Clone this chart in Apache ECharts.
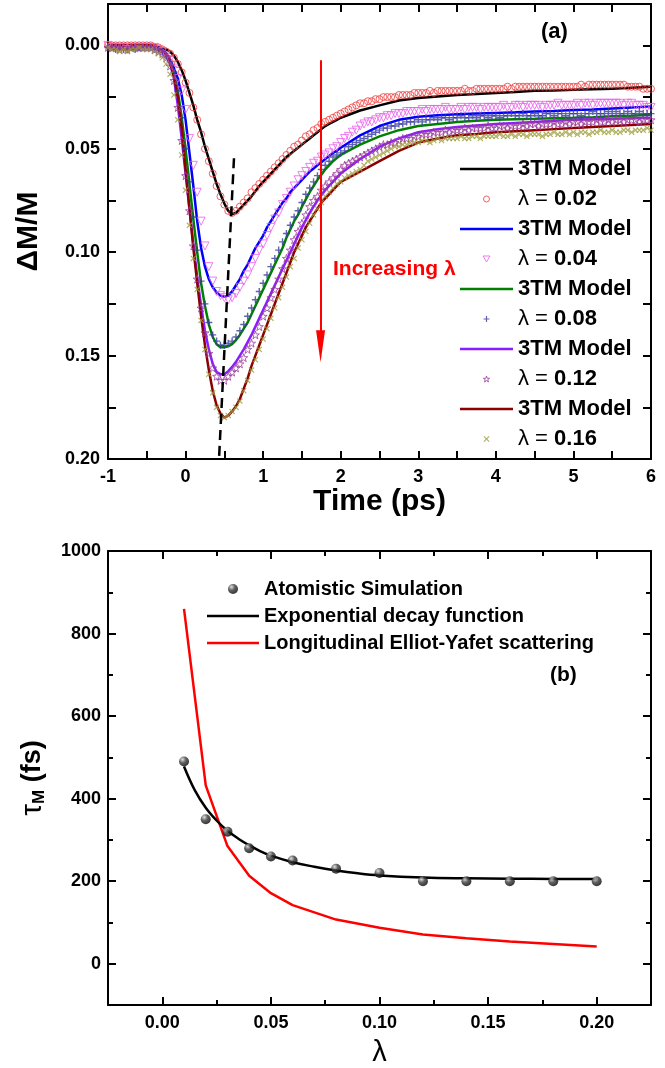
<!DOCTYPE html>
<html><head><meta charset="utf-8">
<script src="https://cdn.jsdelivr.net/npm/echarts@6/dist/echarts.min.js"></script>
<style>html,body{margin:0;padding:0;background:#fff}#c{width:665px;height:1068px}</style>
</head><body><div id="c"></div>
<script>
// ---------- Panel (a): time grids ----------
const tData = [-1,-0.95,-0.9,-0.85,-0.8,-0.75,-0.7,-0.65,-0.6,-0.55,
 -0.5,-0.45,-0.4,-0.35,-0.3,-0.25,-0.2,-0.15,-0.1,-0.05,
 0,0.05,0.1,0.15,0.2,0.25,0.3,0.35,0.4,0.45,
 0.5,0.55,0.6,0.65,0.7,0.75,0.8,0.85,0.9,0.95,
 1,1.05,1.1,1.15,1.2,1.25,1.3,1.35,1.4,1.45,
 1.5,1.55,1.6,1.65,1.7,1.75,1.8,1.85,1.9,1.95,
 2,2.05,2.1,2.15,2.2,2.25,2.3,2.35,2.4,2.45,
 2.5,2.55,2.6,2.65,2.7,2.75,2.8,2.85,2.9,2.95,
 3,3.05,3.1,3.15,3.2,3.25,3.3,3.35,3.4,3.45,
 3.5,3.55,3.6,3.65,3.7,3.75,3.8,3.85,3.9,3.95,
 4,4.05,4.1,4.15,4.2,4.25,4.3,4.35,4.4,4.45,
 4.5,4.55,4.6,4.65,4.7,4.75,4.8,4.85,4.9,4.95,
 5,5.05,5.1,5.15,5.2,5.25,5.3,5.35,5.4,5.45,
 5.5,5.55,5.6,5.65,5.7,5.75,5.8,5.85,5.9,5.95,
 6];
const tModel = [-1,-0.75,-0.5,-0.4,-0.35,-0.3,-0.25,-0.2,-0.15,-0.1,
 -0.05,0,0.05,0.1,0.15,0.2,0.25,0.3,0.35,0.4,
 0.45,0.5,0.55,0.6,0.65,0.7,0.75,0.8,0.85,0.9,
 0.95,1,1.05,1.1,1.15,1.2,1.25,1.3,1.35,1.4,
 1.45,1.5,1.55,1.6,1.65,1.7,1.75,1.8,1.85,1.9,
 1.95,2,2.25,2.5,2.75,3,3.25,3.5,3.75,4,
 4.25,4.5,4.75,5,5.25,5.5,5.75,6];

// ---------- Panel (a): measured/simulated data (ΔM/M) ----------
const d002 = [0,0,0,0,0,0,0,0,0,0,
 0,0,0.001,0.001,0.002,0.003,0.004,0.006,0.009,0.013,
 0.018,0.023,0.030,0.036,0.043,0.050,0.056,0.062,0.068,0.073,
 0.077,0.080,0.081,0.080,0.078,0.076,0.074,0.071,0.069,0.067,
 0.065,0.063,0.061,0.059,0.057,0.055,0.053,0.051,0.049,0.048,
 0.046,0.044,0.043,0.041,0.040,0.038,0.037,0.036,0.035,0.034,
 0.033,0.032,0.031,0.030,0.029,0.028,0.028,0.027,0.027,0.026,
 0.026,0.025,0.025,0.025,0.025,0.024,0.024,0.024,0.024,0.023,
 0.023,0.023,0.023,0.022,0.023,0.022,0.022,0.022,0.022,0.022,
 0.022,0.022,0.021,0.022,0.022,0.021,0.021,0.021,0.021,0.021,
 0.021,0.021,0.021,0.020,0.021,0.020,0.020,0.020,0.020,0.020,
 0.020,0.020,0.020,0.020,0.020,0.020,0.020,0.020,0.020,0.020,
 0.020,0.020,0.019,0.020,0.019,0.019,0.019,0.019,0.019,0.019,
 0.019,0.019,0.019,0.019,0.020,0.020,0.020,0.020,0.021,0.021,
 0.021];
const d004 = [0,0.001,0.001,0.001,0.001,0.002,0.001,0.001,0.001,0.001,
 0.001,0.001,0.001,0.002,0.003,0.005,0.007,0.011,0.016,0.022,
 0.031,0.045,0.058,0.071,0.085,0.097,0.107,0.114,0.119,0.121,
 0.122,0.123,0.122,0.120,0.117,0.114,0.111,0.107,0.103,0.099,
 0.096,0.092,0.088,0.084,0.081,0.077,0.074,0.071,0.068,0.065,
 0.063,0.061,0.059,0.057,0.056,0.054,0.053,0.052,0.050,0.049,
 0.047,0.045,0.044,0.042,0.041,0.039,0.038,0.037,0.037,0.036,
 0.035,0.035,0.034,0.034,0.033,0.033,0.033,0.032,0.032,0.032,
 0.032,0.031,0.032,0.031,0.031,0.031,0.031,0.030,0.031,0.031,
 0.031,0.030,0.031,0.030,0.030,0.030,0.031,0.030,0.030,0.030,
 0.030,0.030,0.029,0.030,0.030,0.029,0.029,0.030,0.029,0.029,
 0.029,0.029,0.030,0.029,0.029,0.029,0.028,0.029,0.029,0.029,
 0.029,0.028,0.029,0.028,0.028,0.029,0.028,0.028,0.028,0.028,
 0.028,0.028,0.028,0.029,0.028,0.028,0.029,0.029,0.029,0.030,
 0.030];
const d008 = [0.001,0.001,0.002,0.001,0.002,0.002,0.001,0.002,0.001,0.001,
 0.001,0.001,0.002,0.002,0.003,0.005,0.008,0.013,0.022,0.035,
 0.050,0.066,0.083,0.099,0.114,0.125,0.134,0.140,0.143,0.145,
 0.145,0.144,0.143,0.141,0.138,0.135,0.131,0.127,0.123,0.119,
 0.115,0.111,0.107,0.103,0.099,0.095,0.091,0.087,0.083,0.080,
 0.076,0.072,0.069,0.066,0.063,0.060,0.058,0.056,0.054,0.053,
 0.052,0.051,0.049,0.048,0.047,0.046,0.045,0.044,0.043,0.042,
 0.041,0.040,0.040,0.039,0.039,0.038,0.038,0.037,0.037,0.037,
 0.036,0.037,0.036,0.036,0.035,0.036,0.035,0.035,0.036,0.035,
 0.035,0.034,0.035,0.035,0.034,0.035,0.034,0.034,0.035,0.034,
 0.034,0.035,0.034,0.034,0.033,0.034,0.034,0.033,0.034,0.034,
 0.033,0.034,0.034,0.033,0.033,0.034,0.033,0.033,0.034,0.033,
 0.033,0.033,0.034,0.033,0.033,0.032,0.033,0.033,0.033,0.032,
 0.033,0.032,0.033,0.033,0.032,0.033,0.033,0.032,0.033,0.033,
 0.033];
const d012 = [0.001,0.001,0.001,0.002,0.001,0.002,0.001,0.001,0.001,0.001,
 0.001,0.001,0.002,0.003,0.004,0.006,0.010,0.017,0.030,0.046,
 0.063,0.080,0.097,0.113,0.127,0.139,0.149,0.156,0.160,0.162,
 0.162,0.160,0.158,0.156,0.154,0.151,0.147,0.144,0.140,0.136,
 0.131,0.127,0.122,0.118,0.113,0.108,0.103,0.099,0.094,0.090,
 0.086,0.082,0.078,0.075,0.073,0.070,0.068,0.066,0.064,0.062,
 0.060,0.058,0.057,0.056,0.055,0.054,0.053,0.052,0.051,0.050,
 0.049,0.048,0.048,0.047,0.047,0.046,0.045,0.045,0.045,0.044,
 0.044,0.043,0.043,0.043,0.042,0.042,0.042,0.041,0.042,0.041,
 0.041,0.041,0.040,0.041,0.040,0.040,0.040,0.040,0.039,0.040,
 0.040,0.039,0.039,0.040,0.039,0.039,0.039,0.038,0.039,0.038,
 0.038,0.039,0.038,0.038,0.038,0.037,0.038,0.038,0.037,0.038,
 0.037,0.037,0.038,0.037,0.037,0.037,0.036,0.037,0.037,0.036,
 0.037,0.036,0.036,0.037,0.036,0.036,0.036,0.037,0.036,0.036,
 0.036];
const d016 = [0.001,0.002,0.002,0.003,0.002,0.003,0.002,0.002,0.001,0.002,
 0.002,0.002,0.003,0.004,0.006,0.009,0.014,0.024,0.036,0.053,
 0.070,0.087,0.103,0.118,0.133,0.147,0.159,0.168,0.175,0.179,
 0.180,0.179,0.177,0.175,0.172,0.167,0.162,0.157,0.152,0.147,
 0.142,0.137,0.132,0.127,0.122,0.117,0.112,0.107,0.103,0.098,
 0.094,0.090,0.086,0.082,0.079,0.076,0.073,0.071,0.069,0.067,
 0.066,0.064,0.063,0.062,0.061,0.060,0.058,0.056,0.055,0.054,
 0.053,0.052,0.051,0.050,0.049,0.049,0.048,0.048,0.047,0.047,
 0.047,0.046,0.046,0.047,0.046,0.045,0.046,0.045,0.045,0.045,
 0.045,0.044,0.045,0.045,0.044,0.044,0.045,0.044,0.044,0.044,
 0.044,0.043,0.044,0.044,0.043,0.044,0.043,0.043,0.044,0.043,
 0.043,0.043,0.044,0.043,0.043,0.042,0.043,0.043,0.042,0.043,
 0.042,0.043,0.042,0.042,0.043,0.042,0.042,0.041,0.042,0.042,
 0.041,0.042,0.042,0.041,0.041,0.042,0.041,0.041,0.041,0.040,
 0.041];

// ---------- Panel (a): 3TM model curves ----------
const m002 = [0,0,0,0.0005,0.001,0.0015,0.002,0.003,0.005,0.008,
 0.012,0.017,0.023,0.029,0.036,0.042,0.049,0.055,0.061,0.067,
 0.072,0.0765,0.080,0.0815,0.081,0.079,0.077,0.075,0.073,0.0705,
 0.068,0.066,0.064,0.062,0.060,0.058,0.056,0.054,0.0525,0.051,
 0.0495,0.048,0.0465,0.045,0.0435,0.042,0.0405,0.039,0.038,0.037,
 0.036,0.035,0.0315,0.029,0.0267,0.0255,0.0247,0.024,0.0235,0.023,
 0.0225,0.022,0.0218,0.0215,0.0212,0.021,0.0205,0.020];
const m004 = [0,0,0,0,0.001,0.002,0.004,0.007,0.011,0.016,
 0.024,0.036,0.052,0.068,0.085,0.098,0.107,0.113,0.117,0.1195,
 0.121,0.1215,0.121,0.119,0.116,0.113,0.109,0.106,0.102,0.098,
 0.095,0.092,0.088,0.085,0.082,0.079,0.076,0.074,0.071,0.069,
 0.067,0.065,0.063,0.061,0.0595,0.058,0.0565,0.055,0.0535,0.052,
 0.051,0.0495,0.0435,0.039,0.036,0.0345,0.0338,0.0333,0.033,0.0327,
 0.0324,0.032,0.0317,0.0313,0.031,0.0305,0.030,0.0295];
const m008 = [0,0,0,0,0.001,0.002,0.004,0.008,0.013,0.022,
 0.035,0.050,0.067,0.084,0.100,0.115,0.126,0.135,0.141,0.1445,
 0.146,0.146,0.1455,0.1445,0.1425,0.140,0.137,0.134,0.130,0.126,
 0.122,0.118,0.114,0.110,0.106,0.102,0.098,0.093,0.089,0.085,
 0.082,0.078,0.0745,0.071,0.068,0.065,0.0625,0.060,0.058,0.056,
 0.0545,0.053,0.048,0.044,0.041,0.039,0.038,0.037,0.0365,0.036,
 0.0357,0.0355,0.0352,0.035,0.0347,0.0343,0.034,0.0335];
const m012 = [0,0,0,0,0.001,0.002,0.004,0.008,0.016,0.029,
 0.045,0.062,0.079,0.096,0.112,0.126,0.138,0.147,0.154,0.158,
 0.159,0.159,0.1575,0.1555,0.153,0.150,0.147,0.1435,0.140,0.136,
 0.132,0.128,0.124,0.120,0.116,0.112,0.108,0.104,0.100,0.096,
 0.092,0.088,0.0845,0.081,0.078,0.075,0.0725,0.070,0.068,0.066,
 0.064,0.062,0.055,0.049,0.045,0.042,0.0405,0.0395,0.0387,0.038,
 0.0375,0.037,0.0365,0.036,0.0357,0.0355,0.0352,0.035];
const m016 = [0,0,0,0,0.001,0.003,0.005,0.009,0.015,0.025,
 0.040,0.060,0.079,0.098,0.115,0.131,0.145,0.157,0.167,0.174,
 0.178,0.180,0.179,0.177,0.1745,0.171,0.166,0.161,0.155,0.150,
 0.145,0.140,0.135,0.130,0.125,0.120,0.115,0.110,0.105,0.100,
 0.096,0.092,0.088,0.085,0.082,0.079,0.076,0.074,0.072,0.070,
 0.068,0.066,0.061,0.056,0.051,0.047,0.045,0.0435,0.0428,0.042,
 0.0415,0.041,0.0405,0.040,0.0395,0.039,0.0385,0.038];

// guide lines of panel (a) in data units
const minimaGuide = [[0.624, 0.0546], [0.431, 0.2]];
const arrowGuide = [[1.74, 0.0072], [1.74, 0.1455]];

// ticks panel (a)
const xTicksA = [-1,0,1,2,3,4,5,6];
const xMinorA = [-1,-0.5,0,0.5,1,1.5,2,2.5,3,3.5,4,4.5,5,5.5,6];
const yTicksA = [0,0.05,0.1,0.15,0.2];
const yMinorA = [0,0.025,0.05,0.075,0.1,0.125,0.15,0.175,0.2];

// ---------- Panel (b) ----------
const lambdaSim = [0.01,0.02,0.03,0.04,0.05,0.06,0.08,0.10,0.12,0.14,0.16,0.18,0.20];
const tauSim    = [490,350,320,280,260,250,230,220,200,200,200,200,200];
const lambdaFit = [0.01,0.015,0.02,0.025,0.03,0.035,0.04,0.045,0.05,0.06,0.07,0.08,0.09,0.10,0.12,0.14,0.16,0.18,0.20];
const tauFit    = [478,420,378,347,322,303,287,273,262,246,235,226,219,214,209,207,206,205.5,205];
const lambdaEY  = [0.01,0.02,0.03,0.04,0.05,0.06,0.08,0.10,0.12,0.14,0.16,0.18,0.20];
const tauEY     = [860,432,285,213,171,142,107,87,71,62,54,48,42];
const xTicksB = [0,0.05,0.1,0.15,0.2];
const xMinorB = [0.025,0.075,0.125,0.175];
const yTicksB = [0,200,400,600,800,1000];
const yMinorB = [-100,100,300,500,700,900];

const FONT = "'Liberation Sans', Arial, sans-serif";
const zip = (xs, ys) => xs.map((x, i) => [x, ys[i]]);

const chart = echarts.init(document.getElementById('c'), null, {renderer: 'canvas'});

function frameAxis(extra) {
  return Object.assign({
    type: 'value', splitLine: {show: false},
    axisLine: {show: true, onZero: false, lineStyle: {color: '#000', width: 2}},
    axisTick: {show: true, inside: true, length: 8, lineStyle: {color: '#000', width: 2}},
    axisLabel: {show: false}
  }, extra);
}
const lblStyle = {show: true, color: '#000', fontFamily: FONT, fontWeight: 'bold', fontSize: 18};

const plusPath = 'path://M4,0H6V4H10V6H6V10H4V6H0V4H4Z';
const crossPath = 'path://M1.4,0L5,3.6L8.6,0L10,1.4L6.4,5L10,8.6L8.6,10L5,6.4L1.4,10L0,8.6L3.6,5L0,1.4Z';
const starPath = 'path://M50,0L61.8,35.5L99,35.5L69,57.5L80.9,93L50,71L19.1,93L31,57.5L1,35.5L38.2,35.5Z';
const triDownPath = 'path://M0,0L10,0L5,8.66Z';
const lineIconA = 'path://M0,0H53V2.6H0Z';
const lineIconB = 'path://M0,0H52V2.6H0Z';

const C = {m002: '#000000', d002: '#ee3b3b', m004: '#0000ff', d004: '#e85ee8', m008: '#008000',
  d008: '#3a3a9e', m012: '#8a1cff', d012: '#9b3c9b', m016: '#8b0000', d016: '#9e9e3a'};

function modelSeries(name, ys) {
  const color = C[name];
  return {name, type: 'line', xAxisIndex: 0, yAxisIndex: 0, data: zip(tModel, ys),
    symbol: 'none', showSymbol: false, lineStyle: {color, width: 2.5}, itemStyle: {color}, z: 3};
}
const hollow = c => ({color: 'rgba(255,255,255,0)', borderColor: c, borderWidth: 1});
function dataSeries(name, ys, symbol, size, isHollow) {
  const color = C[name];
  return {name, type: 'scatter', xAxisIndex: 0, yAxisIndex: 0, data: zip(tData, ys),
    symbol, symbolSize: size,
    itemStyle: isHollow ? hollow(color) : {color, borderWidth: 0}, z: 3};
}

const legendText = {
  m002: '3TM Model', d002: '{l|λ = }0.02',
  m004: '3TM Model', d004: '{l|λ = }0.04',
  m008: '3TM Model', d008: '{l|λ = }0.08',
  m012: '3TM Model', d012: '{l|λ = }0.12',
  m016: '3TM Model', d016: '{l|λ = }0.16'
};
const legendA = [
  {name: 'm002', icon: lineIconA, itemStyle: {color: C.m002}},
  {name: 'd002', icon: 'circle', itemStyle: hollow(C.d002)},
  {name: 'm004', icon: lineIconA, itemStyle: {color: C.m004}},
  {name: 'd004', icon: triDownPath, itemStyle: hollow(C.d004)},
  {name: 'm008', icon: lineIconA, itemStyle: {color: C.m008}},
  {name: 'd008', icon: plusPath, itemStyle: {color: C.d008, borderWidth: 0}},
  {name: 'm012', icon: lineIconA, itemStyle: {color: C.m012}},
  {name: 'd012', icon: starPath, itemStyle: hollow(C.d012)},
  {name: 'm016', icon: lineIconA, itemStyle: {color: C.m016}},
  {name: 'd016', icon: crossPath, itemStyle: {color: C.d016, borderWidth: 0}}
];

const sphere = {type: 'radial', x: 0.35, y: 0.3, r: 0.75,
  colorStops: [{offset: 0, color: '#d8d8d8'}, {offset: 0.45, color: '#3a3a3a'}, {offset: 1, color: '#000'}]};

const m002s = modelSeries('m002', m002);
m002s.markLine = {
  silent: true, symbol: 'none', label: {show: false}, animation: false,
  data: [
    [{coord: minimaGuide[0], lineStyle: {color: '#000', width: 2.5, type: [10, 6]}}, {coord: minimaGuide[1]}],
    [{coord: arrowGuide[0], symbol: 'none', lineStyle: {color: '#ff0000', width: 2, type: 'solid'}},
     {coord: arrowGuide[1], symbol: 'triangle', symbolSize: [9, 32]}]
  ]
};

const option = {
  animation: false,
  backgroundColor: '#fff',
  textStyle: {fontFamily: FONT},
  grid: [
    {left: 108, top: 4, width: 543, height: 455, outerBoundsMode: 'none'},
    {left: 108, top: 551, width: 543, height: 454, outerBoundsMode: 'none'}
  ],
  xAxis: [
    frameAxis({gridIndex: 0, position: 'bottom', min: -1, max: 6,
      axisTick: {show: true, inside: true, length: 8, lineStyle: {color: '#000', width: 2}, customValues: xMinorA},
      axisLabel: Object.assign({}, lblStyle, {margin: 9, customValues: xTicksA, formatter: v => String(v)}),
      name: 'Time (ps)', nameLocation: 'middle', nameGap: 28,
      nameTextStyle: {color: '#000', fontFamily: FONT, fontWeight: 'bold', fontSize: 30}}),
    frameAxis({gridIndex: 0, position: 'top', min: -1, max: 6,
      axisTick: {show: true, inside: true, length: 8, lineStyle: {color: '#000', width: 2}, customValues: xMinorA}}),
    frameAxis({gridIndex: 1, position: 'bottom', min: -0.025, max: 0.225,
      axisTick: {show: true, inside: true, length: 8, lineStyle: {color: '#000', width: 2}, customValues: xTicksB},
      axisLabel: Object.assign({}, lblStyle, {margin: 9, customValues: xTicksB, formatter: v => v.toFixed(2)}),
      name: 'λ', nameLocation: 'middle', nameGap: 33,
      nameTextStyle: {color: '#000', fontFamily: FONT, fontWeight: 'normal', fontSize: 29}}),
    frameAxis({gridIndex: 1, position: 'bottom', min: -0.025, max: 0.225, axisLine: {show: false, onZero: false},
      axisTick: {show: true, inside: true, length: 5, lineStyle: {color: '#000', width: 2}, customValues: xMinorB}}),
    frameAxis({gridIndex: 1, position: 'top', min: -0.025, max: 0.225,
      axisTick: {show: true, inside: true, length: 8, lineStyle: {color: '#000', width: 2}, customValues: xTicksB}}),
    frameAxis({gridIndex: 1, position: 'top', min: -0.025, max: 0.225, axisLine: {show: false, onZero: false},
      axisTick: {show: true, inside: true, length: 5, lineStyle: {color: '#000', width: 2}, customValues: xMinorB}})
  ],
  yAxis: [
    frameAxis({gridIndex: 0, position: 'left', min: -0.02, max: 0.2, inverse: true,
      axisTick: {show: true, inside: true, length: 8, lineStyle: {color: '#000', width: 2}, customValues: yMinorA},
      axisLabel: Object.assign({}, lblStyle, {margin: 8, customValues: yTicksA, formatter: v => v.toFixed(2)}),
      name: 'ΔM/M', nameLocation: 'middle', nameGap: 64, nameRotate: 90,
      nameTextStyle: {color: '#000', fontFamily: FONT, fontWeight: 'bold', fontSize: 30}}),
    frameAxis({gridIndex: 0, position: 'right', min: -0.02, max: 0.2, inverse: true,
      axisTick: {show: true, inside: true, length: 8, lineStyle: {color: '#000', width: 2}, customValues: yMinorA}}),
    frameAxis({gridIndex: 1, position: 'left', min: -100, max: 1000,
      axisTick: {show: true, inside: true, length: 8, lineStyle: {color: '#000', width: 2}, customValues: yTicksB},
      axisLabel: Object.assign({}, lblStyle, {margin: 7, customValues: yTicksB, formatter: v => String(v)}),
      name: '{t|τ}{s|M}{f| (fs)}', nameLocation: 'middle', nameGap: 60, nameRotate: 90,
      nameTextStyle: {color: '#000', fontFamily: FONT, fontSize: 28,
        rich: {t: {fontFamily: FONT, fontSize: 30, color: '#000'},
               s: {fontFamily: FONT, fontSize: 17, fontWeight: 'bold', color: '#000', verticalAlign: 'bottom', padding: [14, 0, 0, 0]},
               f: {fontFamily: FONT, fontSize: 27, fontWeight: 'bold', color: '#000'}}}}),
    frameAxis({gridIndex: 1, position: 'left', min: -100, max: 1000, axisLine: {show: false, onZero: false},
      axisTick: {show: true, inside: true, length: 5, lineStyle: {color: '#000', width: 2}, customValues: yMinorB}}),
    frameAxis({gridIndex: 1, position: 'right', min: -100, max: 1000,
      axisTick: {show: true, inside: true, length: 8, lineStyle: {color: '#000', width: 2}, customValues: yTicksB}}),
    frameAxis({gridIndex: 1, position: 'right', min: -100, max: 1000, axisLine: {show: false, onZero: false},
      axisTick: {show: true, inside: true, length: 5, lineStyle: {color: '#000', width: 2}, customValues: yMinorB}})
  ],
  legend: [
    {orient: 'vertical', left: 455, top: 153, itemWidth: 53, itemHeight: 6, itemGap: 8,
     data: legendA, formatter: n => legendText[n], selectedMode: false, symbolKeepAspect: true,
     textStyle: {color: '#000', fontFamily: FONT, fontWeight: 'bold', fontSize: 22, lineHeight: 22,
       rich: {l: {color: '#000', fontFamily: FONT, fontWeight: 'normal', fontSize: 22, lineHeight: 22}}}},
    {orient: 'vertical', left: 202, top: 574, itemWidth: 52, itemHeight: 10, itemGap: 7, selectedMode: false,
     symbolKeepAspect: true,
     data: [
       {name: 'Atomistic Simulation', icon: 'circle'},
       {name: 'Exponential decay function', icon: lineIconB, itemStyle: {color: '#000'}},
       {name: 'Longitudinal Elliot-Yafet scattering', icon: lineIconB, itemStyle: {color: '#ff0000'}}
     ],
     textStyle: {color: '#000', fontFamily: FONT, fontWeight: 'bold', fontSize: 20, lineHeight: 20}}
  ],
  graphic: [
    {type: 'text', left: 541, top: 21, style: {text: '(a)', fill: '#000', font: "bold 22px 'Liberation Sans', Arial, sans-serif"}},
    {type: 'text', left: 550, top: 665, style: {text: '(b)', fill: '#000', font: "bold 21px 'Liberation Sans', Arial, sans-serif"}},
    {type: 'text', left: 333, top: 259, style: {text: 'Increasing λ', fill: '#ff0000', font: "bold 21px 'Liberation Sans', Arial, sans-serif"}}
  ],
  series: [
    m002s,
    dataSeries('d002', d002, 'circle', 7, true),
    modelSeries('m004', m004),
    dataSeries('d004', d004, triDownPath, 8, true),
    modelSeries('m008', m008),
    dataSeries('d008', d008, plusPath, 7, false),
    modelSeries('m012', m012),
    dataSeries('d012', d012, starPath, 8, true),
    modelSeries('m016', m016),
    dataSeries('d016', d016, crossPath, 6, false),
    {name: 'Longitudinal Elliot-Yafet scattering', type: 'line', xAxisIndex: 2, yAxisIndex: 2,
     data: zip(lambdaEY, tauEY), symbol: 'none', showSymbol: false,
     lineStyle: {color: '#ff0000', width: 2.5}, itemStyle: {color: '#ff0000'}, z: 3},
    {name: 'Exponential decay function', type: 'line', xAxisIndex: 2, yAxisIndex: 2,
     data: zip(lambdaFit, tauFit), smooth: 0.4, symbol: 'none', showSymbol: false,
     lineStyle: {color: '#000', width: 2.5}, itemStyle: {color: '#000'}, z: 4},
    {name: 'Atomistic Simulation', type: 'scatter', xAxisIndex: 2, yAxisIndex: 2,
     data: zip(lambdaSim, tauSim), symbol: 'circle', symbolSize: 10,
     itemStyle: {color: sphere, borderWidth: 0}, z: 5}
  ]
};
chart.setOption(option);
</script></body></html>
